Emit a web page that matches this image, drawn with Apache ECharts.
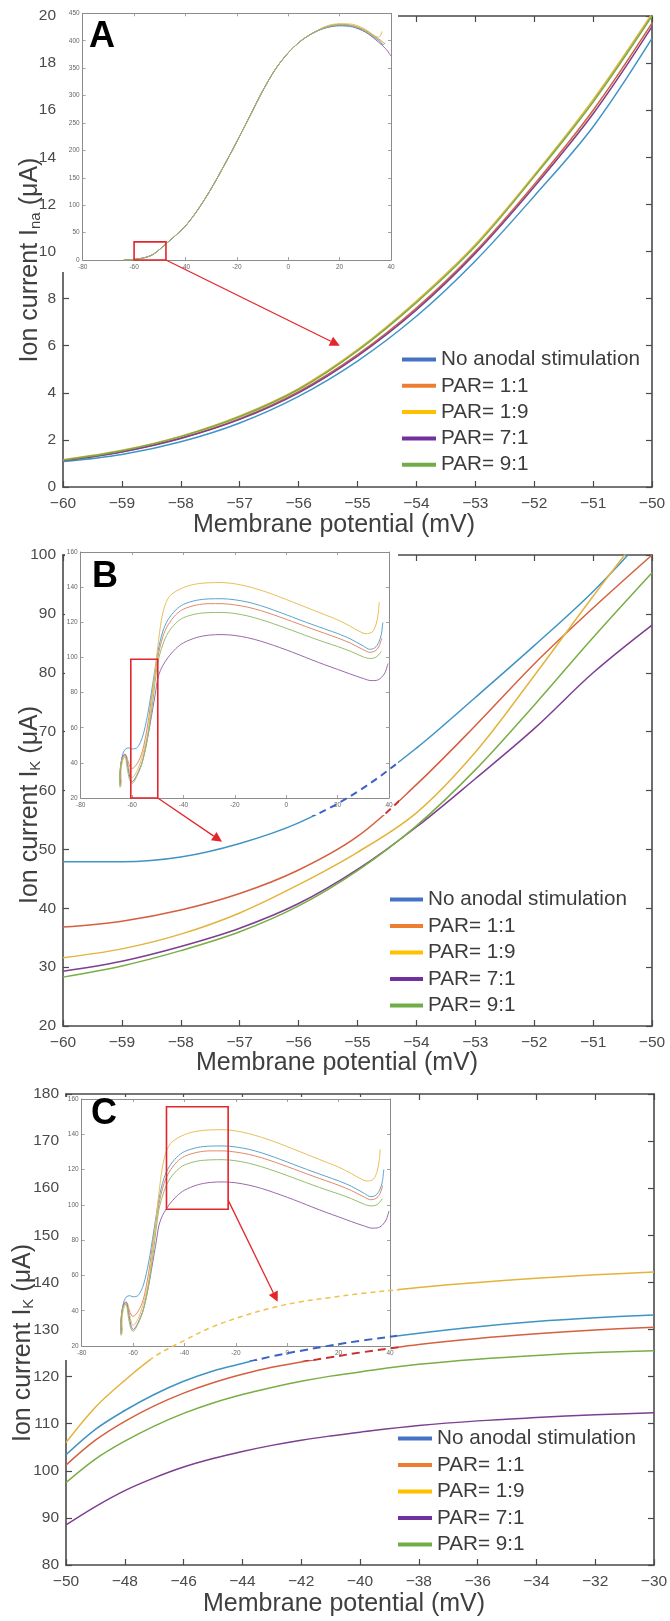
<!DOCTYPE html>
<html>
<head>
<meta charset="utf-8">
<script src="https://cdn.jsdelivr.net/npm/echarts@6/dist/echarts.min.js"></script>
<style>
  html, body { margin: 0; padding: 0; background: #fff; }
  #chart { width: 670px; height: 1621px; }
</style>
</head>
<body>
<div id="chart"></div>
<script>
// ---------- series ----------
const seriesNames = ['No anodal stimulation', 'PAR= 1:1', 'PAR= 1:9', 'PAR= 7:1', 'PAR= 9:1'];

// ---------- panel A: sodium current, zoom -60..-50 mV ----------
const naV      = [-60, -59, -58, -57, -56, -55, -54, -53, -52, -51, -50];
const naNoStim = [1.08, 1.38, 1.92, 2.72, 3.85, 5.35, 7.25, 9.60, 12.35, 15.30, 19.05];
const naPar11  = [1.12, 1.50, 2.08, 2.90, 4.05, 5.62, 7.60, 10.00, 12.85, 16.00, 19.70];
const naPar19  = [1.16, 1.56, 2.16, 3.02, 4.18, 5.83, 7.90, 10.30, 13.25, 16.45, 20.10];
const naPar71  = [1.12, 1.49, 2.06, 2.87, 4.00, 5.56, 7.52, 9.92, 12.75, 15.85, 19.55];
const naPar91  = [1.14, 1.54, 2.14, 2.98, 4.14, 5.78, 7.83, 10.22, 13.18, 16.35, 20.00];

// panel A inset: full sodium trace (shared rise, separate tails)
const naFullRiseV = [-64, -62, -60, -57.5, -55, -52.5, -50, -47.5, -45, -40, -35, -30, -25, -20, -15, -10, -5, 0, 5, 10];
const naFullRise  = [0, 0.4, 1.1, 2.7, 5.4, 10.5, 19.5, 30, 40, 62, 93, 130, 172, 216, 262, 308, 348, 378, 400, 415];
const naTailNoStimV = [15, 20, 25, 30, 35, 37, 37.8];
const naTailNoStim  = [424, 427, 425, 416, 401, 393, 396];
const naTailPar11V  = [15, 20, 25, 30, 35, 37.5];
const naTailPar11   = [426, 430, 428, 419, 404, 395];
const naTailPar19V  = [15, 20, 25, 30, 34, 35.5, 36.5];
const naTailPar19   = [427, 431, 430, 421, 408, 407, 417];
const naTailPar71V  = [15, 20, 25, 30, 35, 38, 40];
const naTailPar71   = [424, 428, 426, 416, 398, 385, 372];
const naTailPar91V  = [15, 20, 25, 30, 35, 37];
const naTailPar91   = [425, 429, 427, 418, 402, 392];

// ---------- panel B: potassium current, zoom -60..-50 mV ----------
const kBV      = [-60, -59, -58, -57, -56, -55, -54, -53, -52, -51, -50];
const kBNoStim = [47.9, 47.9, 48.7, 51.0, 54.5, 59.8, 67.2, 75.8, 84.6, 93.8, 104.5];
const kBPar11  = [36.8, 37.8, 39.7, 42.5, 46.5, 52.2, 61.0, 71.0, 81.5, 91.0, 100.0];
const kBPar19  = [31.6, 33.1, 35.6, 39.2, 44.0, 49.5, 56.2, 66.5, 79.5, 93.0, 106.0];
const kBPar71  = [29.3, 31.0, 33.5, 36.6, 40.8, 46.6, 53.8, 62.0, 70.5, 80.0, 88.1];
const kBPar91  = [28.3, 30.2, 32.8, 36.0, 40.4, 46.4, 54.0, 63.5, 74.5, 86.0, 97.0];

// ---------- panel C: potassium current, zoom -50..-30 mV ----------
const kCV      = [-50, -49, -48, -47, -46, -45, -44, -43, -42, -41, -40, -38, -36, -34, -32, -30];
const kCNoStim = [103.4, 108.8, 112.8, 116.2, 119.0, 121.2, 122.8, 124.3, 125.5, 126.6, 127.6, 129.2, 130.6, 131.7, 132.5, 133.1];
const kCPar11  = [101.2, 106.5, 110.5, 113.8, 116.5, 118.7, 120.5, 122.0, 123.1, 124.1, 125.1, 126.8, 128.1, 129.1, 129.9, 130.5];
const kCPar19  = [106.0, 113.5, 119.2, 124.2, 127.6, 130.6, 132.8, 134.6, 135.9, 136.8, 137.6, 138.9, 140.0, 140.9, 141.6, 142.2];
const kCPar71  = [88.5, 92.4, 95.8, 98.5, 100.8, 102.6, 104.1, 105.4, 106.5, 107.4, 108.2, 109.6, 110.6, 111.3, 111.9, 112.3];
const kCPar91  = [97.5, 102.5, 106.3, 109.5, 112.2, 114.4, 116.2, 117.7, 119.0, 120.1, 121.0, 122.6, 123.7, 124.5, 125.1, 125.5];

// insets of B and C: full potassium trajectory [V, I] (loops at rest, so stored as pairs)
const kTraceNoStim = [[-64.3,29],[-64.5,35],[-64.2,41],[-63.5,45.5],[-62.5,48],[-61.3,48.5],[-60,47.9],[-58,48.7],[-56,54.5],[-54,67],[-52,84.6],[-50,103],[-48,115],[-46,121.5],[-43,127],[-40,130.2],[-35,132.5],[-30,133.3],[-25,133.4],[-20,132.8],[-15,131.5],[-10,129.5],[-5,127],[0,124.3],[5,121.5],[10,118.8],[15,116.2],[20,113.6],[25,110.5],[30,106.5],[32.5,104.6],[34.5,105.5],[36,108.5],[37,113],[37.6,120]];
const kTracePar11  = [[-64.4,28],[-64.6,34],[-64.2,40],[-63.4,44],[-62.5,44.5],[-61.5,40.5],[-60.7,37.5],[-60,36.8],[-58,39.7],[-56,46.5],[-54,61],[-52,81.5],[-50,100],[-48,112],[-46,118.5],[-43,124.3],[-40,127.5],[-35,129.8],[-30,130.6],[-25,130.6],[-20,129.9],[-15,128.6],[-10,126.7],[-5,124.3],[0,121.7],[5,119],[10,116.3],[15,113.7],[20,111.1],[25,108.1],[30,104.4],[32.5,102.9],[34.5,103.6],[36,106],[37.2,111]];
const kTracePar19  = [[-64.2,27],[-64.4,32.5],[-64,39],[-63.2,43],[-62.3,43.5],[-61.4,38],[-60.6,33],[-60,31.6],[-58,35.6],[-56,44],[-54,56.2],[-52,79.5],[-50,106],[-48.5,122],[-47,130.5],[-45,135.5],[-40,139.8],[-35,141.8],[-30,142.5],[-25,142.6],[-20,141.9],[-15,140.4],[-10,138.3],[-5,135.8],[0,133],[5,130.1],[10,127.2],[15,124.3],[20,121.4],[25,117.7],[28,115.2],[31,113.5],[33.5,114.5],[35,119],[35.8,125],[36.2,131.5]];
const kTracePar71  = [[-64.6,26.5],[-64.8,32],[-64.4,39],[-63.6,44],[-62.7,45],[-61.8,39],[-60.9,32],[-60,29.3],[-58,33.5],[-56,40.8],[-54,53.8],[-52,70.5],[-51,79],[-50,88],[-49,92.5],[-48,95.5],[-46,100],[-43,105],[-40,108.3],[-35,111.3],[-30,112.7],[-25,113],[-20,112.5],[-15,111.2],[-10,109.3],[-5,106.9],[0,104.3],[5,101.5],[10,98.6],[15,95.8],[20,93.2],[25,90.5],[30,88],[33,86.8],[35,86.9],[37,88.5],[38.5,91.5],[39.6,96.5]];
const kTracePar91  = [[-64.7,26],[-64.9,31],[-64.5,38],[-63.7,43],[-62.8,43.8],[-61.9,37],[-61,30.5],[-60,28.3],[-58,32.8],[-56,40.4],[-54,54],[-52,74.5],[-50,97],[-48,107.5],[-46,114],[-43,119.5],[-40,122.6],[-35,124.8],[-30,125.5],[-25,125.6],[-20,125],[-15,123.6],[-10,121.6],[-5,119.2],[0,116.6],[5,113.9],[10,111.2],[15,108.6],[20,106.2],[25,103.5],[30,100.3],[32.5,99.4],[34.5,99.8],[36,101.5],[37,103.5]];

// zoom windows drawn on each inset [x1, y1, x2, y2] and the arrows that point from them
const zoomBoxA = [-60, 0, -47.6, 33];
const zoomBoxB = [-60.5, 20, -50, 99];
const zoomBoxC = [-47, 97.5, -23, 155.6];
const arrowFromA = [-47.6, 0],  arrowToA = [-55.3, 6.0];
const arrowFromB = [-50, 20],   arrowToB = [-57.3, 51.3];
const arrowFromC = [-23, 102.7], arrowToC = [-42.8, 135.9];

// ---------- styling ----------
const FONT = 'Liberation Sans';
const curveColors  = ['#3e94c4', '#d4603f', '#e3b43c', '#7d3f8f', '#79ad45'];
const insetColors  = ['#5aa5d0', '#e08a6a', '#e6c058', '#9a6aa8', '#95be6e'];
const legendColors = ['#4472c4', '#ed7d31', '#ffc000', '#7030a0', '#70ad47'];
const dashColors   = ['#3b62c4', '#c9302c', '#f0c04c'];
const RED = '#e3262b';

const pairs = (xs, ys) => xs.map((x, i) => [x, ys[i]]);
const minusFmt = v => (v < 0 ? '\u2212' : '') + Math.abs(v);

const naInset = [
  pairs(naFullRiseV, naFullRise).concat(pairs(naTailNoStimV, naTailNoStim)),
  pairs(naFullRiseV, naFullRise).concat(pairs(naTailPar11V, naTailPar11)),
  pairs(naFullRiseV, naFullRise).concat(pairs(naTailPar19V, naTailPar19)),
  pairs(naFullRiseV, naFullRise).concat(pairs(naTailPar71V, naTailPar71)),
  pairs(naFullRiseV, naFullRise).concat(pairs(naTailPar91V, naTailPar91))
];
const kInset = [kTraceNoStim, kTracePar11, kTracePar19, kTracePar71, kTracePar91];

const panels = [
  {
    letter: 'A', letterPos: [89, 37],
    main: { l: 63, t: 16, w: 589, h: 471 },
    inset: { l: 82.7, t: 13.3, w: 308.3, h: 246.7 },
    cover: { l: 61, t: 8, w: 337, h: 264 },
    x: [-60, -50, 1], y: [0, 20, 2],
    ix: [-80, 40, 20], iy: [0, 450, 50],
    yName: 'Ion current I{s|na} (\u03bcA)', yGap: 20, yPad: 17,
    xGap: 26, xPad: 47,
    legend: { l: 402, t: 349, w: 34, gap: 5.3 },
    lines: [pairs(naV, naNoStim), pairs(naV, naPar11), pairs(naV, naPar19), pairs(naV, naPar71), pairs(naV, naPar91)],
    insetLines: naInset,
    box: zoomBoxA, from: arrowFromA, to: arrowToA,
    dashed: []
  },
  {
    letter: 'B', letterPos: [92, 577],
    main: { l: 63, t: 555, w: 589, h: 471 },
    inset: { l: 80.7, t: 552, w: 308.3, h: 246 },
    cover: { l: 65, t: 549, w: 333, h: 266 },
    x: [-60, -50, 1], y: [20, 100, 10],
    ix: [-80, 40, 20], iy: [20, 160, 20],
    yName: 'Ion current I{s|K} (\u03bcA)', yGap: 20, yPad: 29,
    xGap: 25, xPad: 41,
    legend: { l: 390, t: 889, w: 33, gap: 5.5 },
    lines: [pairs(kBV, kBNoStim), pairs(kBV, kBPar11), pairs(kBV, kBPar19), pairs(kBV, kBPar71), pairs(kBV, kBPar91)],
    insetLines: kInset,
    box: zoomBoxB, from: arrowFromB, to: arrowToB,
    dashed: [{ s: 0, c: dashColors[0], w: 2, d: [7, 5] }, { s: 1, c: dashColors[1], w: 2, d: [7, 5] }]
  },
  {
    letter: 'C', letterPos: [91, 1114],
    main: { l: 66, t: 1094, w: 588, h: 471 },
    inset: { l: 81.7, t: 1099, w: 308.3, h: 247 },
    cover: { l: 61, t: 1097, w: 337, h: 263 },
    x: [-50, -30, 2], y: [80, 180, 10],
    ix: [-80, 40, 20], iy: [20, 160, 20],
    yName: 'Ion current I{s|K} (\u03bcA)', yGap: 30, yPad: 27,
    xGap: 27, xPad: 32,
    legend: { l: 398, t: 1428, w: 34, gap: 5.5 },
    lines: [pairs(kCV, kCNoStim), pairs(kCV, kCPar11), pairs(kCV, kCPar19), pairs(kCV, kCPar71), pairs(kCV, kCPar91)],
    insetLines: kInset,
    box: zoomBoxC, from: arrowFromC, to: arrowToC,
    dashed: [{ s: 2, c: dashColors[2], w: 1.5, d: [5, 4] }, { s: 0, c: dashColors[0], w: 2, d: [8, 5] }, { s: 1, c: dashColors[1], w: 2, d: [8, 5] }]
  }
];

const grids = [], xAxes = [], yAxes = [], series = [], legends = [];
const push = (arr, o) => { arr.push(o); return arr.length - 1; };

function framed(rng, st) {
  return {
    type: 'value', min: rng[0], max: rng[1], interval: rng[2],
    splitLine: { show: false },
    axisLine: { show: true, onZero: false, lineStyle: { color: st.line, width: st.lw } },
    axisTick: { show: true, inside: true, length: st.tick, lineStyle: { color: st.line, width: st.tw } },
    nameMoveOverlap: false,
    z: st.z
  };
}
const mainSt  = { line: '#4a4a4a', lw: 1.6, tick: 6, tw: 1.2, z: 0 };
const insetSt = { line: '#8c8c8c', lw: 1, tick: 3, tw: 0.8, z: 31 };
const mainLabel  = { fontSize: 15.5, color: '#4a4a4a', fontFamily: FONT, formatter: minusFmt };
const insetLabel = { fontSize: 6.5, color: '#666', fontFamily: FONT, margin: 4 };

panels.forEach((p, pi) => {
  // main plot
  const gm = push(grids, { left: p.main.l, top: p.main.t, width: p.main.w, height: p.main.h, outerBoundsMode: 'none' });
  const xm = push(xAxes, Object.assign(framed(p.x, mainSt), {
    gridIndex: gm, position: 'bottom',
    axisLabel: Object.assign({ margin: 9 }, mainLabel),
    name: 'Membrane potential (mV)', nameLocation: 'middle', nameGap: p.xGap,
    nameTextStyle: { fontSize: 25, color: '#3f3f3f', fontFamily: FONT, padding: [0, p.xPad, 0, 0] }
  }));
  push(xAxes, Object.assign(framed(p.x, mainSt), { gridIndex: gm, position: 'top', axisLabel: { show: false } }));
  const ym = push(yAxes, Object.assign(framed(p.y, mainSt), {
    gridIndex: gm, position: 'left',
    axisLabel: Object.assign({ margin: 7 }, mainLabel),
    name: p.yName, nameLocation: 'middle', nameGap: p.yGap,
    nameTextStyle: {
      fontSize: 25, color: '#3f3f3f', fontFamily: FONT, padding: [0, p.yPad, 0, 0],
      rich: { s: { fontSize: 15, color: '#3f3f3f', fontFamily: FONT, verticalAlign: 'bottom' } }
    }
  }));
  push(yAxes, Object.assign(framed(p.y, mainSt), { gridIndex: gm, position: 'right', axisLabel: { show: false } }));

  p.lines.forEach((d, i) => {
    series.push({
      type: 'line', name: seriesNames[i], xAxisIndex: xm, yAxisIndex: ym, data: d,
      smooth: 0.35, symbol: 'none', silent: true, z: 2,
      lineStyle: { color: curveColors[i], width: 1.5 }, itemStyle: { color: curveColors[i] }
    });
  });

  // inset
  const gi = push(grids, { left: p.inset.l, top: p.inset.t, width: p.inset.w, height: p.inset.h, outerBoundsMode: 'none' });
  const xi = push(xAxes, Object.assign(framed(p.ix, insetSt), { gridIndex: gi, position: 'bottom', axisLabel: insetLabel }));
  push(xAxes, Object.assign(framed(p.ix, insetSt), { gridIndex: gi, position: 'top', axisLabel: { show: false } }));
  const yi = push(yAxes, Object.assign(framed(p.iy, insetSt), { gridIndex: gi, position: 'left', axisLabel: Object.assign({}, insetLabel, { margin: 3 }) }));
  push(yAxes, Object.assign(framed(p.iy, insetSt), { gridIndex: gi, position: 'right', axisLabel: { show: false } }));
  p.insetGrid = gi; p.mainGrid = gm;

  p.insetLines.forEach((d, i) => {
    series.push({
      type: 'line', name: seriesNames[i], xAxisIndex: xi, yAxisIndex: yi, data: d,
      smooth: 0.3, symbol: 'none', silent: true, z: 32,
      lineStyle: { color: insetColors[i], width: 1 }, itemStyle: { color: insetColors[i] }
    });
  });

  // dashed continuation of the curves that run beneath the inset
  if (p.dashed.length) {
    const c = p.cover, m = p.main;
    const sx = (p.x[1] - p.x[0]) / m.w, sy = (p.y[1] - p.y[0]) / m.h;
    const go = push(grids, { left: c.l, top: c.t, width: c.w, height: c.h, outerBoundsMode: 'none' });
    const xo = push(xAxes, { type: 'value', gridIndex: go, show: false,
      min: p.x[0] + (c.l - m.l) * sx, max: p.x[0] + (c.l + c.w - m.l) * sx });
    const yo = push(yAxes, { type: 'value', gridIndex: go, show: false,
      max: p.y[1] - (c.t - m.t) * sy, min: p.y[1] - (c.t + c.h - m.t) * sy });
    p.dashed.forEach(dd => {
      series.push({
        type: 'line', name: seriesNames[dd.s], xAxisIndex: xo, yAxisIndex: yo, data: p.lines[dd.s],
        smooth: 0.35, symbol: 'none', silent: true, z: 40, clip: true,
        lineStyle: { color: dd.c, width: dd.w, type: dd.d }, itemStyle: { color: dd.c }
      });
    });
  }

  legends.push({
    left: p.legend.l, top: p.legend.t, orient: 'vertical', padding: 0,
    itemWidth: p.legend.w, itemHeight: 4, itemGap: p.legend.gap, icon: 'rect', selectedMode: false,
    textStyle: { fontSize: 20.7, color: '#3c3c3c', fontFamily: FONT, lineHeight: 21 },
    data: seriesNames.map((n, i) => ({ name: n, icon: 'rect', itemStyle: { color: legendColors[i], borderWidth: 0 } }))
  });
});

const chart = echarts.init(document.getElementById('chart'), null, { renderer: 'canvas', width: 670, height: 1621 });
chart.setOption({
  animation: false,
  backgroundColor: '#fff',
  textStyle: { fontFamily: FONT },
  grid: grids, xAxis: xAxes, yAxis: yAxes, legend: legends, series: series
});

// white inset backgrounds, panel letters, zoom windows and arrows
const elements = [];
panels.forEach((p, pi) => {
  elements.push({
    type: 'rect', id: 'cover' + pi, z: 20, silent: true,
    shape: { x: p.cover.l, y: p.cover.t, width: p.cover.w, height: p.cover.h },
    style: { fill: '#fff' }
  });
  elements.push({
    type: 'text', id: 'letter' + pi, z: 50, silent: true,
    style: { text: p.letter, x: p.letterPos[0], y: p.letterPos[1], fill: '#000',
      font: 'bold 36px "' + FONT + '"', align: 'left', verticalAlign: 'middle' }
  });
  const c1 = chart.convertToPixel({ gridIndex: p.insetGrid }, [p.box[0], p.box[3]]);
  const c2 = chart.convertToPixel({ gridIndex: p.insetGrid }, [p.box[2], p.box[1]]);
  elements.push({
    type: 'rect', id: 'zoomBox' + pi, z: 45, silent: true,
    shape: { x: c1[0], y: c1[1], width: c2[0] - c1[0], height: c2[1] - c1[1] },
    style: { fill: 'none', stroke: RED, lineWidth: 1.6 }
  });
  const a = chart.convertToPixel({ gridIndex: p.insetGrid }, p.from);
  const b = chart.convertToPixel({ gridIndex: p.mainGrid }, p.to);
  const dx = b[0] - a[0], dy = b[1] - a[1], len = Math.hypot(dx, dy);
  const ux = dx / len, uy = dy / len, L = 10, W = 5;
  const bx = b[0] - ux * L, by = b[1] - uy * L;
  elements.push({
    type: 'line', id: 'arrowLine' + pi, z: 45, silent: true,
    shape: { x1: a[0], y1: a[1], x2: bx, y2: by },
    style: { stroke: RED, lineWidth: 1.3 }
  });
  elements.push({
    type: 'polygon', id: 'arrowHead' + pi, z: 45, silent: true,
    shape: { points: [[b[0], b[1]], [bx - uy * W, by + ux * W], [bx + uy * W, by - ux * W]] },
    style: { fill: RED }
  });
});
chart.setOption({ graphic: { elements: elements } });
</script>
</body>
</html>
